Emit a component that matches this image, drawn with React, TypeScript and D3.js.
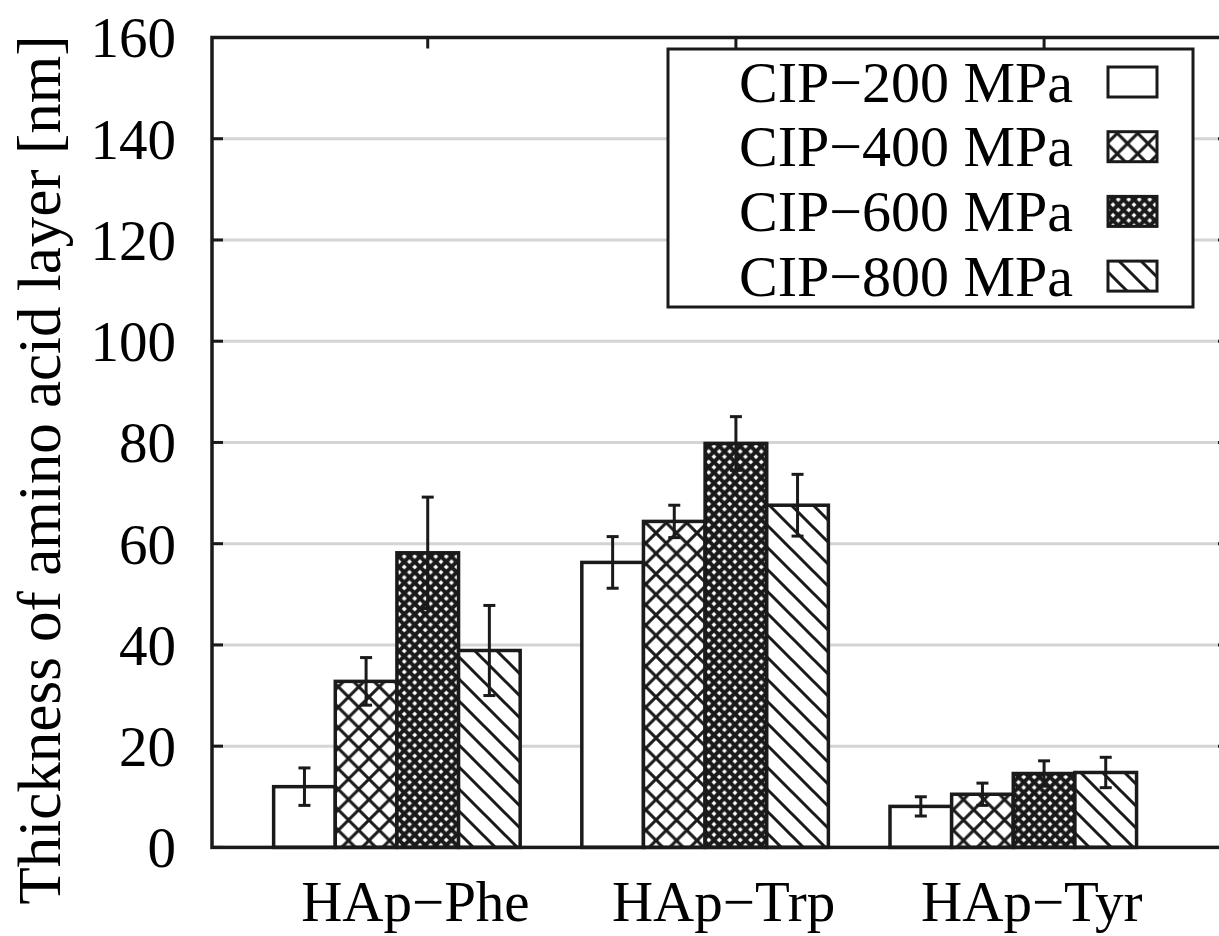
import React from "react";
import * as d3 from "d3";

const categories = ["HAp\u2212Phe", "HAp\u2212Trp", "HAp\u2212Tyr"];
const seriesNames = ["CIP\u2212200 MPa", "CIP\u2212400 MPa", "CIP\u2212600 MPa", "CIP\u2212800 MPa"];
const values200 = [12.0, 56.3, 8.1];
const values400 = [32.8, 64.4, 10.5];
const values600 = [58.2, 79.8, 14.6];
const values800 = [38.9, 67.6, 14.8];
const err200 = [3.7, 5.1, 1.9];
const err400 = [4.7, 3.2, 2.2];
const err600 = [11.0, 5.3, 2.5];
const err800 = [8.9, 6.1, 3.0];
const yTicks = [0, 20, 40, 60, 80, 100, 120, 140, 160];

const seriesValues = [values200, values400, values600, values800];
const seriesErrors = [err200, err400, err600, err800];
const fills = ["#ffffff", "url(#pCross)", "url(#pDense)", "url(#pDiag)"];

const INK = "#1a1a1a";
const FONT = "'Liberation Serif', 'Times New Roman', serif";

export default function App() {
  const W = 1219, H = 936;
  const x = d3.scaleLinear().domain([-0.6, 2.7]).range([212, 1229]);
  const y = d3.scaleLinear().domain([0, 160]).range([847.4, 37.5]);
  const barW = 0.2;
  const left = x(-0.6), right = x(2.7), top = y(160), bottom = y(0);
  const tickLen = 11;

  return (
    <svg width={W} height={H} style={{ position: "absolute", left: 0, top: 0, background: "#fff" }}>
      <defs>
        <pattern id="pCross" patternUnits="userSpaceOnUse" width={20.5} height={20.5}>
          <rect width={20.5} height={20.5} fill="#fff" />
          <path d="M-3,-3 L23.5,23.5 M23.5,-3 L-3,23.5" stroke={INK} strokeWidth={3} />
        </pattern>
        <pattern id="pDense" patternUnits="userSpaceOnUse" width={10.5} height={10.5}>
          <rect width={10.5} height={10.5} fill="#fff" />
          <path d="M-2,-2 L12.5,12.5 M12.5,-2 L-2,12.5" stroke={INK} strokeWidth={4} />
        </pattern>
        <pattern id="pDiag" patternUnits="userSpaceOnUse" width={22} height={22}>
          <rect width={22} height={22} fill="#fff" />
          <path d="M-2,-2 L24,24 M-13,9 L13,35 M9,-13 L35,13" stroke={INK} strokeWidth={3} />
        </pattern>
      </defs>

      {/* grid */}
      {yTicks.filter(t => t > 0 && t < 160).map(t => (
        <line key={"g" + t} x1={left} x2={right} y1={y(t)} y2={y(t)} stroke="#d4d4d4" strokeWidth={3} />
      ))}

      {/* ticks */}
      {yTicks.map(t => (
        <g key={"t" + t}>
          <line x1={left} x2={left + tickLen} y1={y(t)} y2={y(t)} stroke={INK} strokeWidth={3} />
          <line x1={right} x2={right - tickLen} y1={y(t)} y2={y(t)} stroke={INK} strokeWidth={3} />
        </g>
      ))}
      {categories.map((c, i) => (
        <g key={"xt" + i}>
          <line x1={x(i + 0.1)} x2={x(i + 0.1)} y1={top} y2={top + tickLen} stroke={INK} strokeWidth={3} />
          <line x1={x(i + 0.1)} x2={x(i + 0.1)} y1={bottom} y2={bottom - tickLen} stroke={INK} strokeWidth={3} />
        </g>
      ))}

      {/* bars */}
      {categories.map((c, i) =>
        seriesValues.map((vals, j) => {
          const x0 = x(i + (j - 2) * barW);
          const x1 = x(i + (j - 1) * barW);
          return (
            <rect key={"b" + i + "-" + j} x={x0} y={y(vals[i])} width={x1 - x0} height={bottom - y(vals[i])}
              fill={fills[j]} stroke={INK} strokeWidth={3.5} />
          );
        })
      )}

      {/* error bars */}
      {categories.map((c, i) =>
        seriesValues.map((vals, j) => {
          const cx = x(i + (j - 1.5) * barW);
          const e = seriesErrors[j][i];
          const yt = y(vals[i] + e), yb = y(vals[i] - e);
          return (
            <g key={"e" + i + "-" + j} stroke={INK} strokeWidth={3}>
              <line x1={cx} x2={cx} y1={yt} y2={yb} />
              <line x1={cx - 6} x2={cx + 6} y1={yt} y2={yt} />
              <line x1={cx - 6} x2={cx + 6} y1={yb} y2={yb} />
            </g>
          );
        })
      )}

      {/* frame */}
      <rect x={left} y={top} width={right - left} height={bottom - top} fill="none" stroke={INK} strokeWidth={3.5} />

      {/* y tick labels */}
      {yTicks.map(t => (
        <text key={"yl" + t} x={176} y={y(t)} dy="0.35em" textAnchor="end" fontFamily={FONT} fontSize={57} fill="#000">
          {t}
        </text>
      ))}

      {/* x labels */}
      {categories.map((c, i) => (
        <text key={"xl" + i} x={x(i + 0.06)} y={921} textAnchor="middle" fontFamily={FONT} fontSize={57} fill="#000">
          {c}
        </text>
      ))}

      {/* y title */}
      <text transform="translate(60,470) rotate(-90)" textAnchor="middle" fontFamily={FONT} fontSize={61} fill="#000">
        Thickness of amino acid layer [nm]
      </text>

      {/* legend */}
      <rect x={668} y={49} width={525} height={258} fill="#fff" stroke={INK} strokeWidth={3} />
      {seriesNames.map((s, j) => {
        const cy = 82 + j * 64.7;
        return (
          <g key={"lg" + j}>
            <text x={1073} y={cy + 19.5} textAnchor="end" fontFamily={FONT} fontSize={58} fill="#000">{s}</text>
            <rect x={1108} y={cy - 15} width={49} height={30} fill={fills[j]} stroke={INK} strokeWidth={3} />
          </g>
        );
      })}
    </svg>
  );
}
